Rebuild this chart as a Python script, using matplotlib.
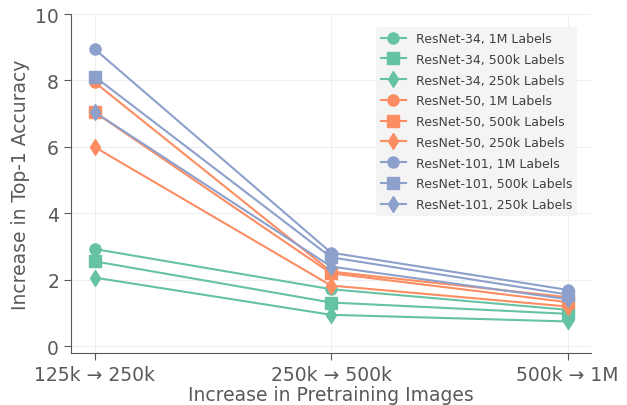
import numpy as np
import matplotlib.pyplot as plt

'''Categories and values read off the reference chart'''
x_labels = ["125k → 250k", "250k → 500k", "500k → 1M"]

resnet34_1m = [2.93, 1.72, 1.10]
resnet34_500k = [2.56, 1.32, 0.98]
resnet34_250k = [2.07, 0.95, 0.75]
resnet50_1m = [7.95, 2.25, 1.48]
resnet50_500k = [7.05, 2.20, 1.33]
resnet50_250k = [6.00, 1.83, 1.20]
resnet101_1m = [8.95, 2.82, 1.70]
resnet101_500k = [8.12, 2.68, 1.56]
resnet101_250k = [7.05, 2.40, 1.42]

series = [
    ("ResNet-34, 1M Labels", resnet34_1m, "#66c2a5", "o"),
    ("ResNet-34, 500k Labels", resnet34_500k, "#66c2a5", "s"),
    ("ResNet-34, 250k Labels", resnet34_250k, "#66c2a5", "d"),
    ("ResNet-50, 1M Labels", resnet50_1m, "#fc8d62", "o"),
    ("ResNet-50, 500k Labels", resnet50_500k, "#fc8d62", "s"),
    ("ResNet-50, 250k Labels", resnet50_250k, "#fc8d62", "d"),
    ("ResNet-101, 1M Labels", resnet101_1m, "#8da0cb", "o"),
    ("ResNet-101, 500k Labels", resnet101_500k, "#8da0cb", "s"),
    ("ResNet-101, 250k Labels", resnet101_250k, "#8da0cb", "d"),
]

text_gray = "#595959"

fig, ax = plt.subplots(figsize=(6.27, 4.06), dpi=100)
fig.subplots_adjust(left=0.113, right=0.943, top=0.963, bottom=0.128)

x = np.arange(len(x_labels))
for label, vals, color, marker in series:
    ax.plot(x, vals, color=color, marker=marker, markersize=8, linewidth=1.5, label=label)

ax.set_xlim(-0.1, 2.1)
ax.set_ylim(-0.2, 10)
ax.set_xticks(x)
ax.set_xticklabels(x_labels)
ax.set_yticks([0, 2, 4, 6, 8, 10])
ax.grid(True, color="#efefef", linewidth=0.8)
ax.set_axisbelow(True)

for side in ["top", "right"]:
    ax.spines[side].set_visible(False)
for side in ["left", "bottom"]:
    ax.spines[side].set_color(text_gray)

ax.tick_params(colors=text_gray, labelsize=13.5, length=5)
ax.set_xlabel("Increase in Pretraining Images", fontsize=13.5, color=text_gray, labelpad=1)
ax.set_ylabel("Increase in Top-1 Accuracy", fontsize=13.5, color=text_gray)

leg = ax.legend(loc="upper right", bbox_to_anchor=(0.985, 0.98), fontsize=9,
                facecolor="#f4f4f4", edgecolor="none", framealpha=1.0,
                labelspacing=0.62, handlelength=2.0)
for t in leg.get_texts():
    t.set_color("#404040")

plt.savefig("out.png", dpi=100)
